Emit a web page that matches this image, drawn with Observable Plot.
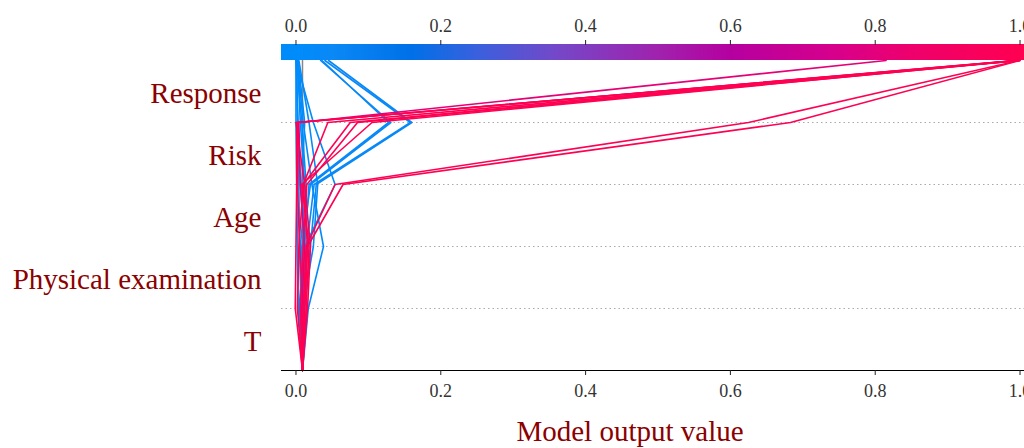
<!DOCTYPE html>
<html>
<head>
<meta charset="utf-8">
<script src="https://cdn.jsdelivr.net/npm/d3@7"></script>
<script src="https://cdn.jsdelivr.net/npm/@observablehq/plot@0.6"></script>
<style>
  html, body { margin: 0; padding: 0; background: #fff; overflow: hidden; width: 1024px; height: 448px; }
  #wrap { position: relative; width: 1024px; height: 448px; overflow: hidden; }
  #xlabel { position: absolute; left: 630px; top: 415px; transform: translateX(-50%);
            font-family: "Liberation Serif", serif; font-size: 29px; color: #8b0000; white-space: nowrap; }
</style>
</head>
<body>
<div id="wrap"><div id="xlabel">Model output value</div></div>
<script>
// Features, bottom row to top row
const features = ["T", "Physical examination", "Age", "Risk", "Response"];
const baseValue = 0.009;
const tickValues = [0, 0.2, 0.4, 0.6, 0.8, 1.0];

// Cumulative model output at: base, after T, Physical examination, Age, Risk, Response
const bluePaths = [
  [0.009, 0.006, 0.008, 0.020, 0.131, 0.034],
  [0.009, 0.010, 0.015, 0.025, 0.158, 0.040],
  [0.009, 0.004, 0.012, 0.018, 0.128, 0.036],
  [0.009, 0.012, 0.020, 0.028, 0.160, 0.045],
  [0.009, 0.017, 0.038, 0.022, 0.010, 0.002],
  [0.009, 0.008, 0.012, 0.054, 0.024, 0.000],
  [0.009, 0.003, 0.002, 0.001, 0.000, 0.000],
  [0.009, 0.007, 0.005, 0.004, 0.002, 0.001],
  [0.009, 0.012, 0.010, 0.008, 0.012, 0.003],
  [0.009, 0.005, 0.016, 0.012, 0.006, 0.002],
  [0.009, 0.009, 0.024, 0.030, 0.018, 0.004],
  [0.009, 0.015, 0.012, 0.006, 0.003, 0.000],
  [0.009, 0.011, 0.006, 0.014, 0.008, 0.001]
];
const redPaths = [
  [0.009, -0.001, 0.000, 0.001, 0.001, 1.000],
  [0.009, 0.010, 0.005, 0.002, 0.003, 0.995],
  [0.009, 0.008, 0.012, 0.006, 0.004, 0.815],
  [0.009, 0.012, 0.016, 0.010, 0.044, 0.998],
  [0.009, 0.006, 0.010, 0.015, 0.085, 0.999],
  [0.009, 0.014, 0.018, 0.008, 0.105, 0.997],
  [0.009, 0.010, 0.014, 0.054, 0.625, 0.999],
  [0.009, 0.011, 0.016, 0.065, 0.683, 1.000],
  [0.009, 0.002, 0.004, 0.010, 0.075, 0.996],
  [0.009, 0.016, 0.020, 0.012, 0.000, 0.994]
];

// Colormap stops (blue -> purple -> red)
const colorStops = [0, 0.05, 0.16, 0.25, 0.36, 0.5, 0.6, 0.75, 0.85, 1];
const colorRange = ["#008bfb", "#0a88f6", "#0070e8", "#3a60dd", "#7448c8", "#a022ad", "#b500a0", "#d8008a", "#ee006c", "#ff0052"];

const rows = [];
[...bluePaths, ...redPaths].forEach((p, i) => {
  p.forEach((v, j) => rows.push({id: i, level: j, value: v, final: p[p.length - 1]}));
});

const barCells = d3.range(-0.02, 1.02, 0.002).map(v => ({v}));

const font = "Liberation Serif";
const chart = Plot.plot({
  width: 1034,
  height: 448,
  marginLeft: 281,
  marginRight: 0,
  marginTop: 60,
  marginBottom: 78,
  style: {maxWidth: "none", fontFamily: font, background: "transparent", overflow: "visible"},
  x: {domain: [-0.02, 1.02]},
  y: {domain: [0, 5]},
  color: {type: "linear", domain: colorStops, range: colorRange, clamp: true, interpolate: "rgb"},
  marks: [
    Plot.rect(barCells, {x1: "v", x2: d => d.v + 0.0025, y1: 5, y2: 5.258, fill: "v", inset: 0, shapeRendering: "crispEdges"}),
    Plot.ruleY([1, 2, 3, 4], {stroke: "#aaa", strokeDasharray: "1.5,3", strokeWidth: 1}),
    Plot.ruleX([baseValue], {y1: 0, y2: 5, stroke: "#888", strokeWidth: 1.5}),
    Plot.line(rows, {x: "value", y: "level", z: "id", stroke: "final", strokeWidth: 1.6}),
    Plot.ruleY([0], {stroke: "#000", strokeWidth: 1.2}),
    Plot.axisX(tickValues, {anchor: "bottom", tickSize: 5, tickPadding: 9, tickFormat: d3.format(".1f"),
      fontSize: 18, fill: "#333", stroke: "#222", label: null}),
    Plot.axisX(tickValues, {anchor: "top", tickSize: 5, tickPadding: 8, dy: -16, tickFormat: d3.format(".1f"),
      fontSize: 18, fill: "#333", stroke: "#222", label: null}),
    Plot.axisY([0.5, 1.5, 2.5, 3.5, 4.5], {anchor: "left", tickSize: 0, tickPadding: 20, dy: 2,
      tickFormat: d => features[Math.floor(d)], fontSize: 29, fill: "#8b0000", label: null})
  ]
});
document.getElementById("wrap").prepend(chart);
</script>
</body>
</html>
